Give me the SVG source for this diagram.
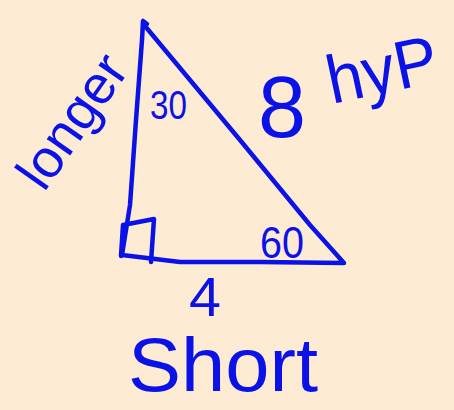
<svg xmlns="http://www.w3.org/2000/svg" width="454" height="410" viewBox="0 0 454 410">
<style>
.ink{fill:none;stroke:#0b12e8;stroke-width:4.5;stroke-linecap:round;stroke-linejoin:round}
.t{fill:#0b12e8;font-family:"Liberation Sans","DejaVu Sans",sans-serif}
</style>
<rect width="454" height="410" fill="#fdebd4"/>
<g id="triangle">
<path class="ink" d="M147 24 L143 21 L142 40 L136 120 L130 205 L122 255 L180 262 L260 262 L344 263 L310 225 L240 140 L175 62 L145 26"/>
</g>
<g id="right-angle">
<path class="ink" d="M123 225 L154 219 L151 262 M123 225 L121 256"/>
</g>
<g id="labels">
<text class="t" x="150" y="119" font-size="40" textLength="37" lengthAdjust="spacingAndGlyphs">30</text>
<text class="t" x="260" y="258" font-size="44" textLength="44" lengthAdjust="spacingAndGlyphs">60</text>
<text class="t" transform="translate(44,193) rotate(-55)" font-size="54" textLength="150" lengthAdjust="spacingAndGlyphs">longer</text>
<text class="t" x="258" y="137" font-size="88" textLength="48" lengthAdjust="spacingAndGlyphs">8</text>
<text class="t" transform="translate(332,104) rotate(-12)" font-size="68" textLength="112" lengthAdjust="spacingAndGlyphs">hyP</text>
<text class="t" x="189" y="316" font-size="56" textLength="32" lengthAdjust="spacingAndGlyphs">4</text>
<text class="t" x="128" y="391" font-size="76" textLength="190" lengthAdjust="spacingAndGlyphs">Short</text>
</g>
</svg>
